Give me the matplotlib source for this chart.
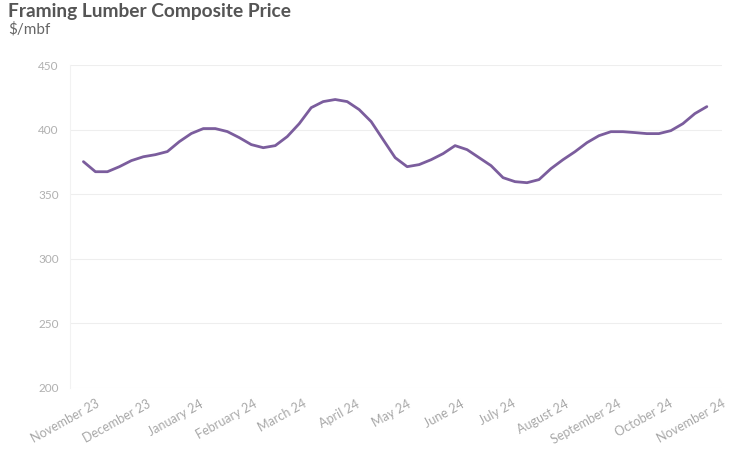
import matplotlib
matplotlib.use("Agg")
import matplotlib.pyplot as plt
import numpy as np
import pandas as pd

# weekly composite price, $/mbf
week_start = "2023-11-03"
prices = [375.2, 367.4, 367.4, 371.3, 376.0, 379.0, 380.6, 383.0, 390.7, 397.0,
          400.8, 400.8, 398.5, 393.8, 388.4, 386.0, 387.6, 394.6, 404.6, 417.0,
          421.7, 423.3, 421.7, 415.5, 406.2, 392.2, 378.3, 371.3, 372.9, 376.7,
          381.4, 387.6, 384.5, 378.3, 372.1, 362.8, 359.7, 358.9, 361.3, 369.8,
          376.7, 382.9, 389.9, 395.3, 398.4, 398.4, 397.7, 396.9, 396.9, 399.2,
          404.6, 412.4, 417.8]
dates = pd.date_range(week_start, periods=len(prices), freq="7D")

month_ticks = pd.date_range("2023-11-01", "2024-11-01", freq="MS")
month_labels = [d.strftime("%B %y") for d in month_ticks]
y_ticks = [200, 250, 300, 350, 400, 450]

plt.rcParams['font.family'] = ['Lato', 'DejaVu Sans']

fig = plt.figure(figsize=(7.34, 4.58), dpi=100)
ax = fig.add_axes([0.095, 0.153, 0.889, 0.705])

ax.plot(dates, prices, color='#7b5d9d', lw=2.0, solid_capstyle='round',
        solid_joinstyle='round')

ax.set_ylim(200, 450)
ax.set_yticks(y_ticks)
ax.set_xlim(dates[0] - pd.Timedelta(days=8), dates[-1] + pd.Timedelta(days=9))
ax.set_xticks(month_ticks)
ax.set_xticklabels([])

# rotated month labels, shifted right of the tick like the original
for d, lab in zip(month_ticks, month_labels):
    ax.annotate(lab, xy=(d, 0), xycoords=('data', 'axes fraction'),
                xytext=(11, -7), textcoords='offset points',
                ha='right', va='top', rotation=29, rotation_mode='anchor',
                fontsize=9, color='#a8a8a8', annotation_clip=False)

ax.tick_params(axis='y', labelsize=8.5, labelcolor='#b0b0b0', length=0, pad=8)
ax.tick_params(axis='x', length=0)
ax.grid(axis='y', color='#eeeeee', lw=0.8)
for s in ['top', 'right', 'bottom']:
    ax.spines[s].set_visible(False)
ax.spines['left'].set_color('#f2f2f2')
ax.set_axisbelow(True)

fig.text(0.011, 0.993, "Framing Lumber Composite Price", fontsize=13.8,
         fontweight='bold', color='#555555', va='top', ha='left')
fig.text(0.011, 0.952, "$/mbf", fontsize=11, color='#666666', va='top', ha='left')

fig.savefig("out.png", dpi=100)
